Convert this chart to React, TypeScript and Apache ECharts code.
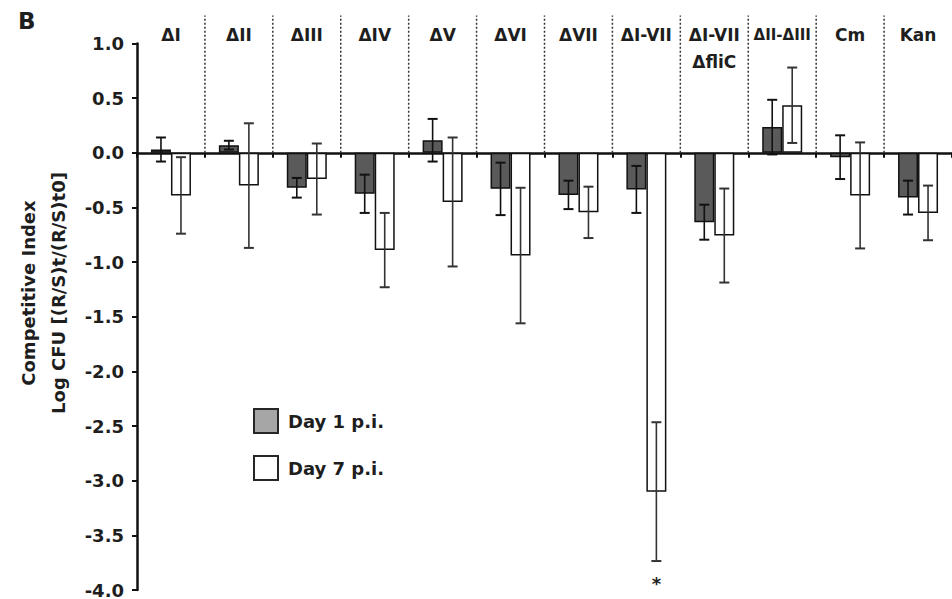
import React, { useEffect, useRef } from 'react';
import * as echarts from 'echarts';

const categories = ['ΔI', 'ΔII', 'ΔIII', 'ΔIV', 'ΔV', 'ΔVI', 'ΔVII', 'ΔI-VII', 'ΔI-VII\nΔfliC', 'ΔII-ΔIII', 'Cm', 'Kan'];
const day1 = [0.03, 0.07, -0.32, -0.375, 0.115, -0.33, -0.385, -0.335, -0.635, 0.235, -0.04, -0.41];
const day1Err = [0.11, 0.04, 0.09, 0.175, 0.195, 0.24, 0.13, 0.215, 0.16, 0.25, 0.2, 0.155];
const day7 = [-0.39, -0.3, -0.24, -0.89, -0.45, -0.94, -0.545, -3.1, -0.757, 0.435, -0.39, -0.55];
const day7Err = [0.35, 0.57, 0.325, 0.34, 0.59, 0.62, 0.235, 0.635, 0.43, 0.345, 0.485, 0.25];
const day7Significant = [false, false, false, false, false, false, false, true, false, false, false, false];
const yTicks = { min: -4, max: 1, interval: 0.5 };

const FONT = 'DejaVu Sans';
const INK = '#1e1e1e';

export default function App() {
  const ref = useRef<HTMLDivElement>(null);

  useEffect(() => {
    document.body.style.margin = '0';
    const chart = echarts.init(ref.current!, null, { renderer: 'svg' });
    const barW = 20;

    const errorSeries = (means: number[], errs: number[], offset: number, color: string, signif?: boolean[]) => ({
      type: 'custom',
      xAxisIndex: 0,
      yAxisIndex: 0,
      z: 5,
      silent: true,
      clip: false,
      data: means.map((m, i) => [i, m, errs[i], signif && signif[i] ? 1 : 0]),
      encode: { x: 0, y: 1 },
      renderItem: (params: any, api: any) => {
        const i = api.value(0);
        const m = api.value(1);
        const e = api.value(2);
        const s = api.value(3);
        const top = api.coord([i, m + e]);
        const bot = api.coord([i, m - e]);
        const x = top[0] + offset;
        const cap = 5;
        const st = { stroke: color, lineWidth: 1.6 };
        const children: any[] = [
          { type: 'line', shape: { x1: x, y1: top[1], x2: x, y2: bot[1] }, style: st },
          { type: 'line', shape: { x1: x - cap, y1: top[1], x2: x + cap, y2: top[1] }, style: { stroke: color, lineWidth: 2 } },
          { type: 'line', shape: { x1: x - cap, y1: bot[1], x2: x + cap, y2: bot[1] }, style: { stroke: color, lineWidth: 2 } },
        ];
        if (s) {
          children.push({
            type: 'text',
            x: x,
            y: bot[1] + 22,
            style: { text: '*', fontFamily: FONT, fontWeight: 'bold', fontSize: 18, fill: INK, textAlign: 'center', textVerticalAlign: 'middle' },
          });
        }
        return { type: 'group', children };
      },
    });

    const option: any = {
      animation: false,
      backgroundColor: '#ffffff',
      grid: { left: 137, top: 43.5, width: 818, height: 547.5 },
      legend: {
        orient: 'vertical',
        left: 253,
        top: 408,
        padding: 0,
        itemWidth: 24,
        itemHeight: 24,
        itemGap: 21,
        icon: 'rect',
        selectedMode: false,
        data: [
          { name: 'Day 1 p.i.', itemStyle: { color: '#a6a6a6', borderColor: '#262626', borderWidth: 2 } },
          { name: 'Day 7 p.i.', itemStyle: { color: '#ffffff', borderColor: '#262626', borderWidth: 2 } },
        ],
        textStyle: { fontFamily: FONT, fontWeight: 'bold', fontSize: 18, color: INK, padding: [0, 0, 0, 5] },
      },
      xAxis: [
        {
          type: 'category',
          data: categories,
          position: 'bottom',
          axisLine: { onZero: true, lineStyle: { color: '#111', width: 2.5 } },
          axisTick: { show: true, interval: 0, length: 5, lineStyle: { color: '#111', width: 2 } },
          axisLabel: { show: false },
          splitLine: { show: false },
        },
        {
          type: 'category',
          data: categories,
          position: 'top',
          axisLine: { show: false, onZero: false },
          axisTick: { show: false },
          splitLine: { show: false },
          axisLabel: {
            interval: 0,
            margin: 22,
            verticalAlign: 'top',
            lineHeight: 27,
            fontFamily: FONT,
            fontWeight: 'bold',
            fontSize: 17,
            color: INK,
            formatter: (v: string) => (v === 'ΔII-ΔIII' ? '{s|' + v + '}' : v),
            rich: { s: { fontFamily: FONT, fontWeight: 'bold', fontSize: 15, color: INK, lineHeight: 27 } },
          },
        },
      ],
      yAxis: {
        type: 'value',
        min: yTicks.min,
        max: yTicks.max,
        interval: yTicks.interval,
        axisLine: { show: true, lineStyle: { color: '#111', width: 2.5 } },
        axisTick: { show: true, length: 5, lineStyle: { color: '#111', width: 2 } },
        splitLine: { show: false },
        axisLabel: {
          formatter: (v: number) => v.toFixed(1),
          fontFamily: FONT,
          fontWeight: 'bold',
          fontSize: 18,
          color: INK,
          margin: 13,
        },
      },
      graphic: [
        { type: 'text', left: 18, top: 9, style: { text: 'B', fontFamily: FONT, fontWeight: 'bold', fontSize: 23, fill: INK } },
        {
          type: 'text', x: 28, y: 293, rotation: Math.PI / 2,
          style: { text: 'Competitive Index', fontFamily: FONT, fontWeight: 'bold', fontSize: 18, fill: INK, textAlign: 'center', textVerticalAlign: 'middle' },
        },
        {
          type: 'text', x: 58, y: 293, rotation: Math.PI / 2,
          style: { text: 'Log CFU [(R/S)t/(R/S)t0]', fontFamily: FONT, fontWeight: 'bold', fontSize: 18, fill: INK, textAlign: 'center', textVerticalAlign: 'middle' },
        },
      ],
      series: [
        {
          type: 'custom',
          silent: true,
          clip: false,
          z: 1,
          data: categories.slice(1).map((_, k) => [k + 1, 0]),
          encode: { x: 0, y: 1 },
          renderItem: (params: any, api: any) => {
            const c = api.coord([api.value(0), 0]);
            const w = api.size([1, 0])[0];
            const x = c[0] - w / 2;
            return {
              type: 'line',
              shape: { x1: x, y1: c[1], x2: x, y2: params.coordSys.y - 28 },
              style: { stroke: '#333', lineWidth: 1.5, lineDash: [2, 2] },
            };
          },
        },
        {
          name: 'Day 1 p.i.',
          type: 'bar',
          data: day1,
          barWidth: barW,
          barGap: '0%',
          z: 3,
          itemStyle: { color: '#5a5a5a', borderColor: '#111', borderWidth: 1.5 },
        },
        {
          name: 'Day 7 p.i.',
          type: 'bar',
          data: day7,
          barWidth: barW,
          barGap: '0%',
          z: 3,
          itemStyle: { color: '#ffffff', borderColor: '#111', borderWidth: 1.5 },
        },
        errorSeries(day1, day1Err, -barW / 2, '#111'),
        errorSeries(day7, day7Err, barW / 2, '#333', day7Significant),
      ],
    };

    chart.setOption(option);
    return () => chart.dispose();
  }, []);

  return <div ref={ref} style={{ width: 952, height: 599 }} />;
}
